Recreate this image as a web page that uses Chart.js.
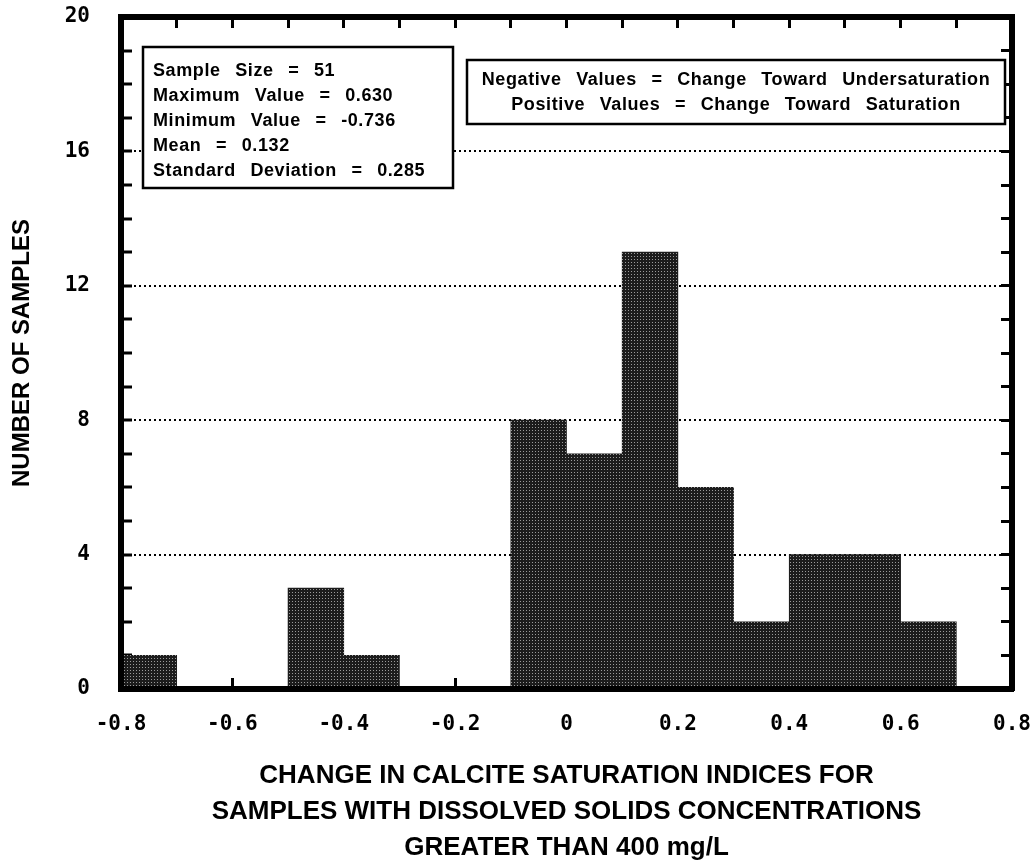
<!DOCTYPE html>
<html>
<head>
<meta charset="utf-8">
<script src="https://cdn.jsdelivr.net/npm/chart.js@4.4.1/dist/chart.umd.min.js"></script>
<style>
html,body{margin:0;padding:0;background:#fff;}
#wrap{width:1032px;height:866px;position:relative;}
</style>
</head>
<body>
<div id="wrap"><canvas id="c" width="1032" height="866"></canvas></div>
<script>
// ---- data ----
const binLower = [-0.8,-0.7,-0.6,-0.5,-0.4,-0.3,-0.2,-0.1,0.0,0.1,0.2,0.3,0.4,0.5,0.6,0.7];
const binUpper = [-0.7,-0.6,-0.5,-0.4,-0.3,-0.2,-0.1,0.0,0.1,0.2,0.3,0.4,0.5,0.6,0.7,0.8];
const sampleCounts = [1,0,0,3,1,0,0,8,7,13,6,2,4,4,2,0];
const xTickValues = [-0.8,-0.6,-0.4,-0.2,0,0.2,0.4,0.6,0.8];
const yLabelEvery = 4;
const statsLines = ['Sample Size = 51','Maximum Value = 0.630','Minimum Value = -0.736','Mean = 0.132','Standard Deviation = 0.285'];
const noteLines = ['Negative Values = Change Toward Undersaturation','Positive Values = Change Toward Saturation'];
const xTitleLines = ['CHANGE IN CALCITE SATURATION INDICES FOR','SAMPLES WITH DISSOLVED SOLIDS CONCENTRATIONS','GREATER THAN 400 mg/L'];
const yTitle = 'NUMBER OF SAMPLES';

const canvas = document.getElementById('c');
const mainCtx = canvas.getContext('2d');

function makeStipple(){
  const t = document.createElement('canvas');
  t.width = 3; t.height = 3;
  const g = t.getContext('2d');
  g.fillStyle = '#1c1c1c'; g.fillRect(0,0,3,3);
  g.fillStyle = '#9a9a9a'; g.fillRect(1,1,1,1);
  return mainCtx.createPattern(t,'repeat');
}

const histData = binLower.map((lo,i)=>({x:(lo+binUpper[i])/2, y:sampleCounts[i]}));
const edgeTicks = binLower.concat([binUpper[binUpper.length-1]]);

const tickFont = {family:'"DejaVu Sans Mono"', weight:'bold', size:21};
const TL = -11;

const boxPlugin = {
  id:'textBoxes',
  afterDraw(chart){
    const ctx = chart.ctx;
    ctx.save();
    ctx.font = 'bold 18px "Liberation Sans", Arial, sans-serif';
    try { ctx.letterSpacing = '0.6px'; ctx.wordSpacing = '9px'; } catch(e){}
    ctx.textBaseline = 'middle';
    // stats box
    ctx.fillStyle = '#fff'; ctx.fillRect(143,47,310,141);
    ctx.lineWidth = 2.5; ctx.strokeStyle = '#000'; ctx.strokeRect(143,47,310,141);
    ctx.fillStyle = '#000'; ctx.textAlign = 'left';
    statsLines.forEach((t,i)=>ctx.fillText(t,153,71+i*25));
    // note box
    ctx.fillStyle = '#fff'; ctx.fillRect(467,60,538,64);
    ctx.strokeRect(467,60,538,64);
    ctx.fillStyle = '#000'; ctx.textAlign = 'center';
    noteLines.forEach((t,i)=>ctx.fillText(t,736,80+i*25));
    ctx.restore();
  }
};

new Chart(canvas, {
  type:'bar',
  data:{
    datasets:[{
      data: histData,
      backgroundColor: makeStipple(),
      borderWidth: 0,
      barPercentage: 1,
      categoryPercentage: 1
    }]
  },
  options:{
    responsive:false,
    animation:false,
    devicePixelRatio:1,
    layout:{padding:0},
    plugins:{legend:{display:false}, tooltip:{enabled:false}},
    scales:{
      x:{
        type:'linear', position:'bottom', min:-0.8, max:0.8, offset:false,
        afterBuildTicks: s => { s.ticks = xTickValues.map(v=>({value:v})); },
        ticks:{font:tickFont, color:'#000', padding:34, maxRotation:0, autoSkip:false, callback: v => String(v)},
        grid:{offset:false, drawOnChartArea:false, drawTicks:true, tickLength:TL, tickWidth:3, tickColor:'#000'},
        border:{display:true, color:'#000', width:6, z:1},
        title:{display:true, text:xTitleLines, color:'#000', padding:0,
               font:{family:'"Liberation Sans", Arial, sans-serif', weight:'bold', size:26, lineHeight:'36px'}},
        afterFit: s => { s.height = 177; s.paddingLeft = 0; s.paddingRight = 0; }
      },
      x2:{
        type:'linear', position:'top', min:-0.8, max:0.8, offset:false,
        afterBuildTicks: s => { s.ticks = edgeTicks.map(v=>({value:v})); },
        ticks:{display:false},
        grid:{offset:false, drawOnChartArea:false, drawTicks:true, tickLength:TL, tickWidth:3, tickColor:'#000'},
        border:{display:true, color:'#000', width:6, z:1},
        afterFit: s => { s.height = 17; s.paddingLeft = 0; s.paddingRight = 0; }
      },
      y:{
        type:'linear', position:'left', min:0, max:20,
        ticks:{stepSize:1, autoSkip:false, font:tickFont, color:'#000', padding:42,
               callback: v => (v % yLabelEvery === 0 ? String(v) : '')},
        grid:{drawOnChartArea:true, lineWidth:2,
              color: c => (c.tick && c.tick.value % yLabelEvery === 0 && c.tick.value > 0 && c.tick.value < 20) ? '#000' : 'rgba(0,0,0,0)',
              drawTicks:true, tickLength:TL, tickWidth:3, tickColor:'#000'},
        border:{display:true, color:'#000', width:6, z:1, dash:[2,3]},
        title:{display:true, text:yTitle, color:'#000', padding:{top:8, bottom:0},
               font:{family:'"Liberation Sans", Arial, sans-serif', weight:'bold', size:24}},
        afterFit: s => { s.width = 121; s.paddingTop = 0; s.paddingBottom = 0; }
      },
      y2:{
        type:'linear', position:'right', min:0, max:20,
        ticks:{display:false, stepSize:1},
        grid:{drawOnChartArea:false, drawTicks:true, tickLength:TL, tickWidth:3, tickColor:'#000'},
        border:{display:true, color:'#000', width:6, z:1},
        afterFit: s => { s.width = 20; s.paddingTop = 0; s.paddingBottom = 0; }
      }
    }
  },
  plugins:[boxPlugin]
});
</script>
</body>
</html>
